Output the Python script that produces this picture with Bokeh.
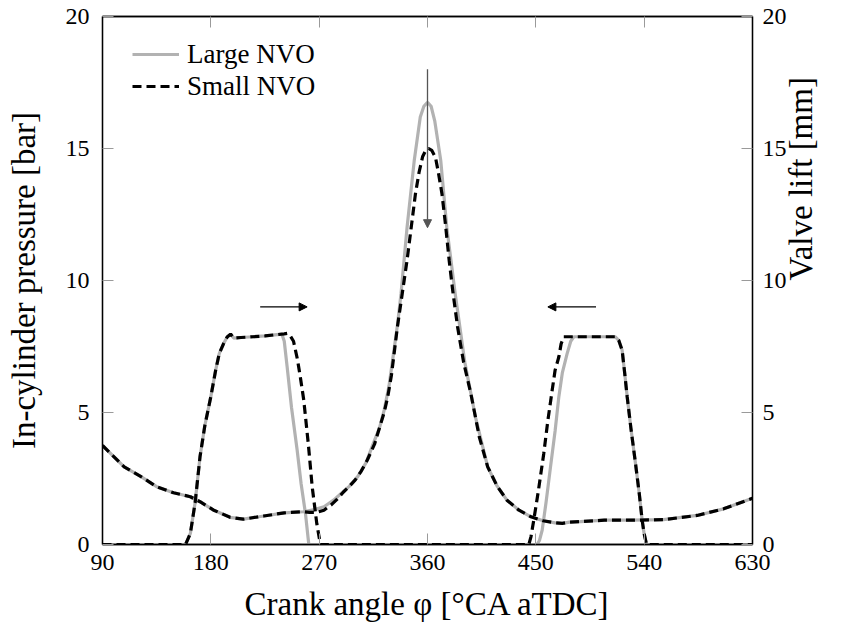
import math
from bokeh.plotting import figure
from bokeh.models import LinearAxis, Range1d, Legend, LegendItem, Arrow, NormalHead, FixedTicker
from bokeh.embed import file_html
from bokeh.resources import INLINE

# ---------------- data ----------------
press_large_x = [90, 100, 108, 122, 135, 149, 163, 171, 182, 196, 207, 224, 241, 257, 266, 274,
                 282, 288, 295, 302, 309, 315, 320, 324, 328, 331, 335, 338, 343, 349, 354, 357,
                 360, 363, 366, 371, 376, 383, 391, 400, 410, 418, 426, 436, 446, 456, 466, 472,
                 478, 487, 507, 529, 556, 584, 606, 630]
press_large_y = [3.75, 3.3, 2.94, 2.57, 2.19, 1.96, 1.81, 1.62, 1.31, 1.03, 0.96, 1.08, 1.2, 1.24, 1.32, 1.43,
                 1.68, 1.92, 2.2, 2.57, 3.1, 3.83, 4.4, 5.09, 6.0, 6.98, 8.3, 9.5, 12.0, 14.55, 16.19, 16.6,
                 16.75, 16.6, 16.05, 14.55, 12.02, 9.5, 6.9, 4.8, 2.94, 2.2, 1.68, 1.3, 1.05, 0.9, 0.82, 0.8,
                 0.85, 0.87, 0.92, 0.92, 0.94, 1.1, 1.35, 1.75]

press_small_x = [90, 100, 108, 122, 135, 149, 163, 171, 182, 196, 207, 224, 241, 257, 262, 268,
                 274, 280, 285, 290, 295, 300, 305, 310, 316, 320, 324, 327, 330, 335, 339, 343,
                 347, 350, 353, 356, 358.5, 361, 363.5, 366.6, 369, 372, 375, 378, 381, 385, 390,
                 396, 403, 410, 418, 426, 436, 446, 456, 466, 472, 478, 487, 507, 529, 556, 584, 606, 630]
press_small_y = [3.75, 3.3, 2.94, 2.57, 2.19, 1.96, 1.81, 1.62, 1.31, 1.03, 0.96, 1.08, 1.2, 1.24, 1.22, 1.22,
                 1.3, 1.5, 1.72, 1.98, 2.2, 2.45, 2.78, 3.2, 3.8, 4.4, 5.0, 5.6, 6.4, 8.24, 9.5, 10.76,
                 12.2, 13.29, 14.1, 14.7, 14.93, 15.0, 14.93, 14.67, 14.1, 13.29, 12.1, 10.76, 9.6, 8.24, 6.9,
                 5.72, 4.08, 2.94, 2.2, 1.68, 1.3, 1.05, 0.9, 0.82, 0.8, 0.85, 0.87, 0.92, 0.92, 0.94, 1.1, 1.35, 1.75]

lift_large_x = [90, 159, 163, 167, 171, 175, 180, 184, 187, 190.5, 193.6, 196.4, 199, 205, 215, 225,
                235, 239, 241, 243.4, 247, 251.7, 255, 258.6, 261.4,
                451, 453, 455.3, 458.5, 462.2, 466, 469.1, 472, 476, 479, 481.6, 490, 500, 510, 516,
                519, 521.7, 523.8, 525.9, 529, 532.8, 536, 538.3, 540, 542, 630]
lift_large_y = [0, 0, 0.42, 1.6, 3.32, 4.5, 5.6, 6.6, 7.23, 7.6, 7.86, 7.97, 7.82, 7.84, 7.87, 7.9,
                7.95, 7.97, 7.7, 6.73, 5.2, 3.58, 2.3, 1.18, 0,
                0, 0.15, 0.55, 1.6, 2.94, 4.3, 5.59, 6.5, 7.23, 7.7, 7.87, 7.87, 7.87, 7.87, 7.87,
                7.72, 7.36, 6.5, 5.59, 4.4, 3.07, 1.9, 0.93, 0.4, 0, 0]

lift_small_x = [90, 159, 163, 167, 171, 175, 180, 184, 187, 190.5, 193.6, 196.4, 199, 205, 215, 225,
                235, 241, 243.5, 246, 248.7, 252, 254.5, 257.2, 261, 264.2, 268, 271,
                444.2, 446, 448.3, 452, 456.6, 460, 463.6, 466, 469.1, 471, 473.2, 481.6, 490, 500, 510, 516,
                519, 521.7, 523.8, 525.9, 529, 532.8, 536, 538.3, 540, 542, 630]
lift_small_y = [0, 0, 0.42, 1.6, 3.32, 4.5, 5.6, 6.6, 7.23, 7.6, 7.86, 7.97, 7.82, 7.84, 7.87, 7.9,
                7.95, 7.98, 8.0, 7.9, 7.7, 7.0, 6.3, 5.47, 3.8, 2.19, 0.8, 0,
                0, 0.3, 0.93, 2.0, 3.45, 4.7, 5.85, 6.6, 7.1, 7.6, 7.87, 7.87, 7.87, 7.87, 7.87, 7.87,
                7.72, 7.36, 6.5, 5.59, 4.4, 3.07, 1.9, 0.93, 0.4, 0, 0]

x_ticks = [90, 180, 270, 360, 450, 540, 630]
y_ticks = [0, 5, 10, 15, 20]

arrow_peak = (360, 18.0, 360, 12.0)
arrow_evc = (221, 9.0, 260, 9.0)
arrow_ivo = (500, 9.0, 460, 9.0)

FONT = "Liberation Serif"
GRAY = "#b2b2b2"

p = figure(width=841, height=628, output_backend="svg", toolbar_location=None,
           x_range=Range1d(90, 630), y_range=Range1d(0, 20),
           min_border_left=102, min_border_right=89, min_border_top=16, min_border_bottom=84,
           x_axis_label="Crank angle φ [°CA aTDC]", y_axis_label="In-cylinder pressure [bar]")
p.grid.visible = False
p.outline_line_color = "black"
p.outline_line_width = 1.3

p.add_layout(LinearAxis(), "right")
p.add_layout(LinearAxis(axis_label="Valve lift [mm]"), "right")
p.add_layout(LinearAxis(), "above")

for ax in p.xaxis:
    ax.ticker = FixedTicker(ticks=x_ticks)
for ax in p.yaxis:
    ax.ticker = FixedTicker(ticks=y_ticks)

for ax in p.axis:
    ax.major_tick_in = 11
    ax.major_tick_out = 0
    ax.minor_tick_line_color = None
    ax.major_tick_line_color = "#9a9a9a"
    ax.major_tick_line_width = 1
    ax.axis_line_color = "black"
    ax.axis_line_width = 1.3
    ax.major_label_text_font = FONT
    ax.major_label_text_font_size = "24px"
    ax.major_label_text_color = "black"
    ax.axis_label_text_font = FONT
    ax.axis_label_text_font_size = "33px"
    ax.axis_label_text_font_style = "normal"
    ax.axis_label_text_color = "black"

top = p.above[0]
top.major_label_overrides = {t: "" for t in x_ticks}
top.major_label_standoff = 0

p.below[0].major_label_standoff = 10
p.below[0].axis_label_standoff = 13
p.left[0].major_label_standoff = 13
p.left[0].axis_label_standoff = 21
p.right[0].major_label_standoff = 10

# outer right axis only carries the axis title
outer = p.right[1]
outer.major_label_overrides = {t: "" for t in y_ticks}
outer.major_label_standoff = 0
outer.major_tick_in = 0
outer.major_tick_line_color = None
outer.axis_line_color = None
outer.axis_label_standoff = 11
outer.axis_label_orientation = math.pi / 2
outer.axis_label_text_baseline = "middle"

r_pl = p.line(press_large_x, press_large_y, line_color=GRAY, line_width=3.2)
r_vl = p.line(lift_large_x, lift_large_y, line_color=GRAY, line_width=3.2)
r_ps = p.line(press_small_x, press_small_y, line_color="black", line_width=3.2, line_dash="9 5")
r_vs = p.line(lift_small_x, lift_small_y, line_color="black", line_width=3.2, line_dash="9 5")

for (xs, ys, xe, ye), col in [(arrow_peak, "#555555"), (arrow_evc, "black"), (arrow_ivo, "black")]:
    p.add_layout(Arrow(end=NormalHead(size=8, fill_color=col, line_color=col, line_width=1),
                       x_start=xs, y_start=ys, x_end=xe, y_end=ye,
                       line_color=col, line_width=1.3))

legend = Legend(items=[LegendItem(label="Large NVO", renderers=[r_pl]),
                       LegendItem(label="Small NVO", renderers=[r_ps])],
                location=(30, 442))
legend.glyph_width = 47
legend.glyph_height = 32
legend.label_height = 32
legend.label_standoff = 8
legend.spacing = 0
legend.padding = 0
legend.margin = 0
legend.border_line_color = None
legend.background_fill_alpha = 0
legend.label_text_font = FONT
legend.label_text_font_size = "27px"
legend.label_text_color = "black"
p.add_layout(legend)

open("out.html", "w").write(file_html(p, INLINE))
